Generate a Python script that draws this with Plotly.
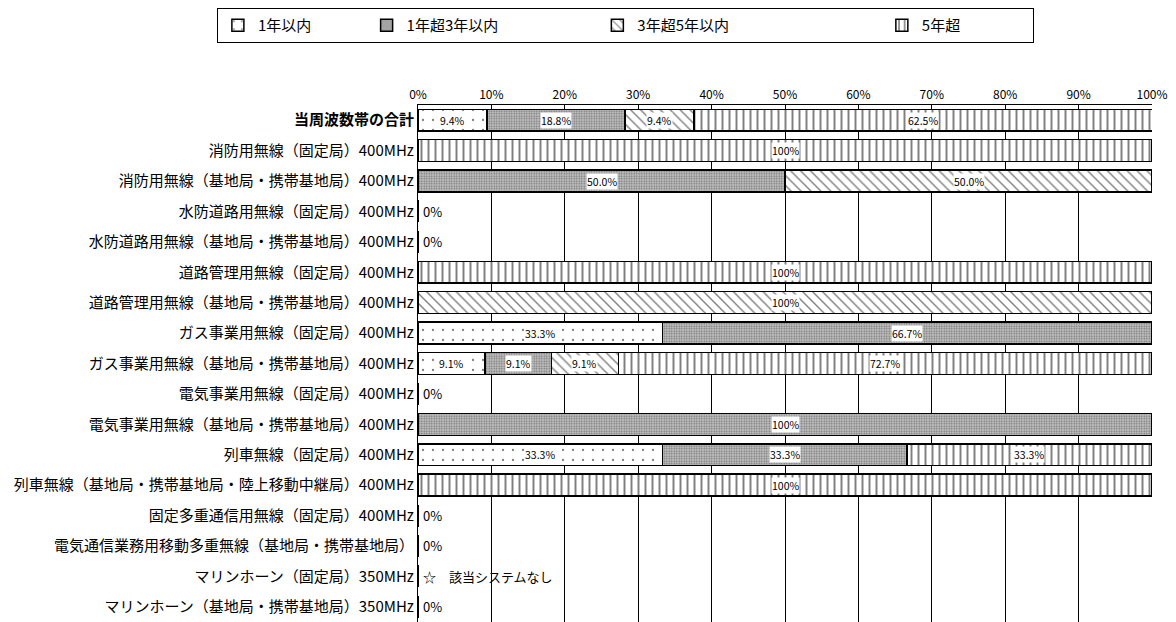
import plotly.graph_objects as go

categories = [
    "<b>当周波数帯の合計</b>",
    "消防用無線（固定局）400MHz",
    "消防用無線（基地局・携帯基地局）400MHz",
    "水防道路用無線（固定局）400MHz",
    "水防道路用無線（基地局・携帯基地局）400MHz",
    "道路管理用無線（固定局）400MHz",
    "道路管理用無線（基地局・携帯基地局）400MHz",
    "ガス事業用無線（固定局）400MHz",
    "ガス事業用無線（基地局・携帯基地局）400MHz",
    "電気事業用無線（固定局）400MHz",
    "電気事業用無線（基地局・携帯基地局）400MHz",
    "列車無線（固定局）400MHz",
    "列車無線（基地局・携帯基地局・陸上移動中継局）400MHz",
    "固定多重通信用無線（固定局）400MHz",
    "電気通信業務用移動多重無線（基地局・携帯基地局）",
    "マリンホーン（固定局）350MHz",
    "マリンホーン（基地局・携帯基地局）350MHz",
]

series_names = ["1年以内", "1年超3年以内", "3年超5年以内", "5年超"]

within_1y = [9.4, 0, 0, 0, 0, 0, 0, 33.3, 9.1, 0, 0, 33.3, 0, 0, 0, 0, 0]
y1_to_3 = [18.8, 0, 50.0, 0, 0, 0, 0, 66.7, 9.1, 0, 100, 33.3, 0, 0, 0, 0, 0]
y3_to_5 = [9.4, 0, 50.0, 0, 0, 0, 100, 0, 9.1, 0, 0, 0, 0, 0, 0, 0, 0]
over_5y = [62.5, 100, 0, 0, 0, 100, 0, 0, 72.7, 0, 0, 33.3, 100, 0, 0, 0, 0]

# text shown in rows without bars
empty_notes = ["", "", "", "0%", "0%", "", "", "", "", "0%", "", "", "", "0%", "0%",
               "☆　該当システムなし", "0%"]

tick_vals = [0, 10, 20, 30, 40, 50, 60, 70, 80, 90, 100]
tick_text = [f"{v}%" for v in tick_vals]

FONT = "Noto Sans CJK JP"

series_values = [within_1y, y1_to_3, y3_to_5, over_5y]
patterns = [
    dict(shape=".", fgcolor="black", bgcolor="white", size=10, solidity=0.04),
    dict(shape=".", fgcolor="#222222", bgcolor="#c0c0c0", size=2.5, solidity=0.35),
    dict(shape="\\", fgcolor="black", bgcolor="white", size=7, solidity=0.2),
    dict(shape="|", fgcolor="black", bgcolor="white", size=7, solidity=0.28),
]

NB = "\u00a0"
legend_names = [
    "1年以内" + NB * 15,
    "1年超3年以内" + NB * 28,
    "3年超5年以内" + NB * 44,
    "5年超" + NB * 20,
]

fig = go.Figure()
for name, lname, vals, pat in zip(series_names, legend_names, series_values, patterns):
    fig.add_trace(go.Bar(
        y=categories, x=vals, name=lname, orientation="h",
        marker=dict(color="white", line=dict(color="black", width=1.5), pattern=pat),
        width=0.72, hoverinfo="x+y",
    ))

annotations = []
for i, cat in enumerate(categories):
    left = 0.0
    for vals in series_values:
        v = vals[i]
        if v > 0:
            label = "100%" if v >= 100 else f"{v:.1f}%"
            annotations.append(dict(
                x=left + v / 2, y=cat, xref="x", yref="y", text=label, showarrow=False,
                font=dict(size=10.5, color="black", family=FONT), bgcolor="white", borderpad=0,
            ))
        left += v
    if empty_notes[i]:
        annotations.append(dict(
            x=0, y=cat, xref="x", yref="y", text=empty_notes[i], showarrow=False,
            xanchor="left", xshift=3, font=dict(size=13, color="black", family=FONT),
        ))

fig.update_layout(
    width=1168, height=614,
    barmode="stack",
    plot_bgcolor="white", paper_bgcolor="white",
    margin=dict(l=410, r=24, t=97, b=0),
    font=dict(family=FONT, color="black"),
    legend=dict(
        orientation="h", xref="paper", x=-0.274, xanchor="left",
        yref="paper", y=1.188, yanchor="top",
        bordercolor="black", borderwidth=1,
        font=dict(size=15, family=FONT), traceorder="normal",
        itemwidth=30,
    ),
    annotations=annotations,
)
fig.update_xaxes(
    side="top", range=[0, 100], tickvals=tick_vals, ticktext=tick_text,
    showgrid=True, gridcolor="black", gridwidth=1,
    showline=True, linecolor="black", linewidth=1, zeroline=False,
    tickfont=dict(size=12, family=FONT), ticks="", fixedrange=True,
)
fig.update_yaxes(
    autorange="reversed", showline=True, linecolor="black", linewidth=1,
    ticks="", tickfont=dict(size=15, family=FONT), showgrid=False,
)

fig.write_html("out.html")
